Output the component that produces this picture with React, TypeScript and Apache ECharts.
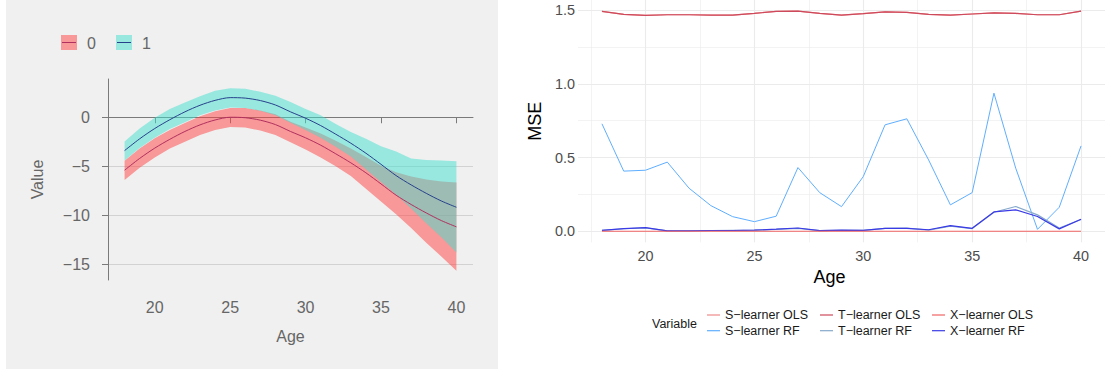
import React, { useEffect, useRef } from "react";
import * as echarts from "echarts";

// Ages shared by both panels
const ages = [18, 19, 20, 21, 22, 23, 24, 25, 26, 27, 28, 29, 30, 31, 32, 33, 34, 35, 36, 37, 38, 39, 40];

// Left panel: fitted value with confidence ribbon, group 0 and group 1
const mean0 = [-5.4, -4.2, -3.15, -2.25, -1.45, -0.78, -0.28, 0.0, -0.05, -0.3, -0.75, -1.45, -2.1, -2.85, -3.73, -4.65, -5.67, -6.8, -7.95, -8.9, -9.76, -10.54, -11.18];
const upper0 = [-4.45, -3.2, -2.15, -1.3, -0.6, 0.1, 0.6, 0.95, 0.95, 0.7, 0.3, -0.45, -1.05, -1.65, -2.4, -3.2, -4.05, -4.95, -5.6, -6.05, -6.35, -6.55, -6.65];
const lower0 = [-6.4, -5.15, -4.1, -3.2, -2.5, -1.8, -1.3, -1.0, -1.05, -1.35, -1.8, -2.55, -3.3, -4.1, -5.0, -6.0, -7.3, -8.6, -9.9, -11.3, -12.8, -14.2, -15.65];
const mean1 = [-3.4, -2.2, -1.15, -0.25, 0.55, 1.22, 1.72, 2.0, 1.95, 1.7, 1.25, 0.55, -0.1, -0.85, -1.73, -2.65, -3.67, -4.8, -5.95, -6.9, -7.76, -8.54, -9.18];
const upper1 = [-2.48, -1.15, -0.05, 0.85, 1.5, 2.15, 2.7, 2.95, 2.9, 2.6, 2.2, 1.55, 0.85, 0.2, -0.7, -1.5, -2.2, -2.95, -3.5, -4.2, -4.35, -4.4, -4.5];
const lower1 = [-4.4, -3.15, -2.1, -1.2, -0.5, 0.2, 0.7, 1.0, 0.95, 0.65, 0.2, -0.55, -1.3, -2.1, -3.0, -4.0, -5.3, -6.6, -7.9, -9.3, -10.8, -12.25, -13.8];

const leftXTicks = [20, 25, 30, 35, 40];
const leftYTicks = [-15, -10, -5, 0];

// Right panel: MSE by age for each learner
const sLearnerOls = [1.492, 1.472, 1.465, 1.469, 1.469, 1.467, 1.467, 1.478, 1.492, 1.494, 1.478, 1.467, 1.476, 1.488, 1.485, 1.472, 1.467, 1.474, 1.481, 1.478, 1.469, 1.469, 1.494];
const tLearnerOls = [1.492, 1.472, 1.465, 1.469, 1.469, 1.467, 1.467, 1.478, 1.492, 1.494, 1.478, 1.467, 1.476, 1.488, 1.485, 1.472, 1.467, 1.474, 1.481, 1.478, 1.469, 1.469, 1.494];
const xLearnerOls = [0, 0, 0, 0, 0, 0, 0, 0, 0, 0, 0, 0, 0, 0, 0, 0, 0, 0, 0, 0, 0, 0, 0];
const sLearnerRf = [0.729, 0.408, 0.414, 0.469, 0.292, 0.174, 0.099, 0.065, 0.102, 0.432, 0.262, 0.167, 0.371, 0.722, 0.763, 0.484, 0.179, 0.262, 0.937, 0.428, 0.013, 0.163, 0.579];
const tLearnerRf = [0.006, 0.017, 0.023, 0.002, 0.003, 0.005, 0.006, 0.007, 0.013, 0.02, 0.004, 0.006, 0.006, 0.019, 0.021, 0.008, 0.035, 0.018, 0.129, 0.168, 0.111, 0.022, 0.08];
const xLearnerRf = [0.006, 0.018, 0.025, 0.002, 0.002, 0.005, 0.005, 0.007, 0.014, 0.022, 0.004, 0.007, 0.006, 0.02, 0.02, 0.01, 0.038, 0.02, 0.131, 0.145, 0.1, 0.016, 0.081];

const rightXTicks = [20, 25, 30, 35, 40];
const rightXMinor = [17.5, 22.5, 27.5, 32.5, 37.5];
const rightYTicks = [0, 0.5, 1.0, 1.5];
const rightYMinor = [0.25, 0.75, 1.25];

const FONT = "Liberation Sans, Arial, Helvetica, sans-serif";
const RED_FILL = "rgba(255,64,64,0.5)";
const TEAL_FILL = "rgba(64,224,208,0.5)";
const RED_LINE = "#B0305F";
const BLUE_LINE = "#27408B";

const pairs = (ys: number[]) => ages.map((a, i) => [a, ys[i]]);
const minus = (v: number) => String(v).replace("-", "\u2212");

// A ribbon between lower and upper bounds, drawn as one polygon through the axis scales
function ribbon(lower: number[], upper: number[], fill: string): any {
  return {
    type: "custom",
    xAxisIndex: 0,
    yAxisIndex: 0,
    silent: true,
    data: ages.map((a, i) => [a, lower[i], upper[i]]),
    encode: { x: 0, y: [1, 2] },
    renderItem: (params: any, api: any) => {
      if (params.dataIndex !== 0) return null;
      const top = ages.map((a, i) => api.coord([a, upper[i]]));
      const bottom = ages.map((a, i) => api.coord([a, lower[i]])).reverse();
      return { type: "polygon", shape: { points: top.concat(bottom) }, style: { fill } };
    },
  };
}

function buildOption(): any {
  return {
    animation: false,
    textStyle: { fontFamily: FONT },
    grid: [
      { left: 108, top: 79, width: 365, height: 201 },
      { left: 578, top: 0, width: 531, height: 242.3 },
    ],
    xAxis: [
      {
        type: "value", gridIndex: 0, min: 16.9, max: 41.1,
        axisLine: { show: true, lineStyle: { color: "#7a7a7a", width: 1 } },
        axisTick: { show: true, length: 6, lineStyle: { color: "#7a7a7a" }, customValues: leftXTicks },
        axisLabel: { customValues: leftXTicks, margin: 19, fontSize: 16, color: "#666666", fontFamily: FONT },
        splitLine: { show: false },
        name: "Age", nameLocation: "middle", nameGap: 48,
        nameTextStyle: { fontSize: 16, color: "#666666", fontFamily: FONT },
      },
      {
        type: "value", gridIndex: 1, min: 16.9, max: 41.1,
        axisLine: { show: false },
        axisTick: { show: false, customValues: rightXTicks },
        axisLabel: { customValues: rightXTicks, margin: 7, fontSize: 14.4, color: "#4d4d4d", fontFamily: FONT },
        splitLine: { show: true, lineStyle: { color: "#ebebeb", width: 1.1 } },
        name: "Age", nameLocation: "middle", nameGap: 24,
        nameTextStyle: { fontSize: 18, color: "#000000", fontFamily: FONT, padding: [0, 24, 0, 0] },
      },
      {
        type: "value", gridIndex: 1, min: 16.9, max: 41.1,
        axisLine: { show: false },
        axisTick: { show: false, customValues: rightXMinor },
        axisLabel: { show: false, customValues: rightXMinor },
        splitLine: { show: true, lineStyle: { color: "#ebebeb", width: 0.6 } },
      },
    ],
    yAxis: [
      {
        type: "value", gridIndex: 0, min: -16.6, max: 3.9,
        axisLine: { show: true, lineStyle: { color: "#7a7a7a", width: 1 } },
        axisTick: { show: true, length: 6, lineStyle: { color: "#7a7a7a" }, customValues: leftYTicks },
        axisLabel: { customValues: leftYTicks, margin: 18, fontSize: 16, color: "#666666", fontFamily: FONT, formatter: (v: number) => minus(v) },
        splitLine: { show: true, lineStyle: { color: "#d2d2d2", width: 1 } },
        name: "Value", nameLocation: "middle", nameGap: 63, nameRotate: 90,
        nameTextStyle: { fontSize: 16, color: "#666666", fontFamily: FONT },
      },
      {
        type: "value", gridIndex: 1, min: -0.075, max: 1.569,
        axisLine: { show: false },
        axisTick: { show: false, customValues: rightYTicks },
        axisLabel: { customValues: rightYTicks, margin: 3, fontSize: 14.4, color: "#4d4d4d", fontFamily: FONT, formatter: (v: number) => v.toFixed(1) },
        splitLine: { show: true, lineStyle: { color: "#ebebeb", width: 1.1 } },
        name: "MSE", nameLocation: "middle", nameGap: 34, nameRotate: 90,
        nameTextStyle: { fontSize: 18, color: "#000000", fontFamily: FONT },
      },
      {
        type: "value", gridIndex: 1, min: -0.075, max: 1.569,
        axisLine: { show: false },
        axisTick: { show: false, customValues: rightYMinor },
        axisLabel: { show: false, customValues: rightYMinor },
        splitLine: { show: true, lineStyle: { color: "#ebebeb", width: 0.6 } },
      },
    ],
    legend: [
      {
        orient: "vertical", left: 707, top: 307.5, padding: 0, itemGap: 0.7, itemWidth: 13, itemHeight: 1.2, icon: "rect",
        textStyle: { fontSize: 12.5, color: "#1a1a1a", lineHeight: 15, fontFamily: FONT },
        data: ["S\u2212learner OLS", "S\u2212learner RF"],
      },
      {
        orient: "vertical", left: 820, top: 307.5, padding: 0, itemGap: 0.7, itemWidth: 13, itemHeight: 1.2, icon: "rect",
        textStyle: { fontSize: 12.5, color: "#1a1a1a", lineHeight: 15, fontFamily: FONT },
        data: ["T\u2212learner OLS", "T\u2212learner RF"],
      },
      {
        orient: "vertical", left: 932, top: 307.5, padding: 0, itemGap: 0.7, itemWidth: 13, itemHeight: 1.2, icon: "rect",
        textStyle: { fontSize: 12.5, color: "#1a1a1a", lineHeight: 15, fontFamily: FONT },
        data: ["X\u2212learner OLS", "X\u2212learner RF"],
      },
    ],
    graphic: [
      { type: "rect", z: -100, silent: true, shape: { x: 6, y: 0, width: 492, height: 369 }, style: { fill: "#f0f0f0" } },
      // group legend for the left panel
      { type: "rect", z: 100, shape: { x: 61, y: 35, width: 16, height: 15 }, style: { fill: RED_FILL } },
      { type: "line", z: 101, shape: { x1: 62, y1: 42.5, x2: 76, y2: 42.5 }, style: { stroke: RED_LINE, lineWidth: 1 } },
      { type: "text", z: 100, x: 87, y: 43, style: { text: "0", fontSize: 16, fill: "#666666", fontFamily: FONT, verticalAlign: "middle" } },
      { type: "rect", z: 100, shape: { x: 116, y: 35, width: 16, height: 15 }, style: { fill: TEAL_FILL } },
      { type: "line", z: 101, shape: { x1: 117, y1: 42.5, x2: 131, y2: 42.5 }, style: { stroke: BLUE_LINE, lineWidth: 1 } },
      { type: "text", z: 100, x: 142, y: 43, style: { text: "1", fontSize: 16, fill: "#666666", fontFamily: FONT, verticalAlign: "middle" } },
      { type: "text", z: 100, x: 652, y: 324, style: { text: "Variable", fontSize: 12.5, fill: "#1a1a1a", fontFamily: FONT, verticalAlign: "middle" } },
    ],
    series: [
      ribbon(lower0, upper0, RED_FILL),
      ribbon(lower1, upper1, TEAL_FILL),
      { name: "0", type: "line", xAxisIndex: 0, yAxisIndex: 0, data: pairs(mean0), symbol: "none", smooth: 0.3, lineStyle: { color: RED_LINE, width: 1 } },
      { name: "1", type: "line", xAxisIndex: 0, yAxisIndex: 0, data: pairs(mean1), symbol: "none", smooth: 0.3, lineStyle: { color: BLUE_LINE, width: 1 } },

      // MSE lines
      { name: "S\u2212learner RF", type: "line", xAxisIndex: 1, yAxisIndex: 1, data: pairs(sLearnerRf), symbol: "none", color: "#5FAEFF", lineStyle: { width: 1 } },
      { name: "T\u2212learner RF", type: "line", xAxisIndex: 1, yAxisIndex: 1, data: pairs(tLearnerRf), symbol: "none", color: "#86A9CB", lineStyle: { width: 1.2 } },
      { name: "X\u2212learner RF", type: "line", xAxisIndex: 1, yAxisIndex: 1, data: pairs(xLearnerRf), symbol: "none", color: "#3A3AE6", lineStyle: { width: 1.2 } },
      { name: "S\u2212learner OLS", type: "line", xAxisIndex: 1, yAxisIndex: 1, data: pairs(sLearnerOls), symbol: "none", color: "#F08A8A", lineStyle: { width: 1.2 } },
      { name: "T\u2212learner OLS", type: "line", xAxisIndex: 1, yAxisIndex: 1, data: pairs(tLearnerOls), symbol: "none", color: "#CD4A5C", lineStyle: { width: 1.2 } },
      { name: "X\u2212learner OLS", type: "line", xAxisIndex: 1, yAxisIndex: 1, data: pairs(xLearnerOls), symbol: "none", color: "#F26464", lineStyle: { width: 1.2 } },
    ],
  };
}

export default function App() {
  const ref = useRef<HTMLDivElement>(null);
  useEffect(() => {
    document.body.style.margin = "0";
    if (!ref.current) return;
    const chart = echarts.init(ref.current, undefined, { renderer: "svg" });
    chart.setOption(buildOption());
    return () => chart.dispose();
  }, []);
  return <div ref={ref} style={{ width: 1105, height: 370, background: "#ffffff" }} />;
}
